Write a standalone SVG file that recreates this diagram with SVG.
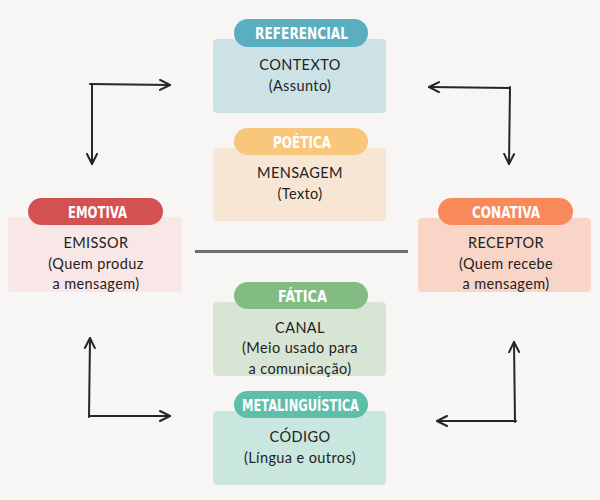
<svg xmlns="http://www.w3.org/2000/svg" width="600" height="500" viewBox="0 0 600 500">
<defs>
<style>
.box{stroke:none}
.pill{stroke:none}
.lbl{font-family:"DejaVu Sans Condensed","DejaVu Sans",sans-serif;font-weight:bold;font-size:15.5px;fill:#ffffff;text-anchor:middle}
.txt{font-family:Lato,"Open Sans",sans-serif;font-size:14.5px;fill:#222222;text-anchor:middle;letter-spacing:0.4px}
.conn{fill:none;stroke:#262626;stroke-width:2;stroke-linecap:round}
</style>
<marker id="ah" viewBox="0 0 12 12" refX="11" refY="6" markerWidth="12" markerHeight="12" markerUnits="userSpaceOnUse" orient="auto">
<path d="M1,1 L11,6 L1,11" fill="none" stroke="#262626" stroke-width="2" stroke-linecap="round" stroke-linejoin="round"/>
</marker>
</defs>
<rect x="0" y="0" width="600" height="500" fill="#f7f6f4"/>

<g id="referencial">
<rect class="box" x="213" y="39" width="173" height="74" rx="4" fill="#cde2e7"/>
<rect class="pill" x="234" y="19" width="134" height="28" rx="14" fill="#5aaec0"/>
<text class="lbl" x="301.5" y="38.5" textLength="93" lengthAdjust="spacingAndGlyphs">REFERENCIAL</text>
<text class="txt" x="300" y="70">CONTEXTO</text>
<text class="txt" x="300" y="91">(Assunto)</text>
</g>

<g id="poetica">
<rect class="box" x="213" y="148" width="173" height="73" rx="4" fill="#f8e6d5"/>
<rect class="pill" x="234" y="128" width="134" height="27" rx="13.5" fill="#f8c77c"/>
<text class="lbl" x="302" y="147.5" textLength="58" lengthAdjust="spacingAndGlyphs">POÉTICA</text>
<text class="txt" x="300" y="178">MENSAGEM</text>
<text class="txt" x="300" y="199">(Texto)</text>
</g>

<g id="emotiva">
<rect class="box" x="8" y="217" width="174" height="75" rx="4" fill="#f9e7e7"/>
<rect class="pill" x="28" y="198" width="135" height="27" rx="13.5" fill="#d45152"/>
<text class="lbl" x="97.5" y="217.5" textLength="59" lengthAdjust="spacingAndGlyphs">EMOTIVA</text>
<text class="txt" x="96" y="248">EMISSOR</text>
<text class="txt" x="96" y="269">(Quem produz</text>
<text class="txt" x="96" y="289">a mensagem)</text>
</g>

<g id="conativa">
<rect class="box" x="418" y="218" width="173" height="74" rx="4" fill="#f9d5c7"/>
<rect class="pill" x="438" y="198" width="135" height="27" rx="13.5" fill="#f8895b"/>
<text class="lbl" x="506" y="217.5" textLength="68" lengthAdjust="spacingAndGlyphs">CONATIVA</text>
<text class="txt" x="506" y="248">RECEPTOR</text>
<text class="txt" x="506" y="269">(Quem recebe</text>
<text class="txt" x="506" y="289">a mensagem)</text>
</g>

<g id="fatica">
<rect class="box" x="213" y="302" width="173" height="74" rx="4" fill="#d8e5d5"/>
<rect class="pill" x="234" y="282" width="134" height="27" rx="13.5" fill="#82bc82"/>
<text class="lbl" x="302.5" y="301.5" textLength="49" lengthAdjust="spacingAndGlyphs">FÁTICA</text>
<text class="txt" x="300" y="333">CANAL</text>
<text class="txt" x="300" y="353">(Meio usado para</text>
<text class="txt" x="300" y="374">a comunicação)</text>
</g>

<g id="metalinguistica">
<rect class="box" x="213" y="411" width="173" height="74" rx="4" fill="#c9e6df"/>
<rect class="pill" x="234" y="391" width="134" height="27" rx="13.5" fill="#5ebfa9"/>
<text class="lbl" x="300.5" y="410.5" textLength="117" lengthAdjust="spacingAndGlyphs">METALINGUÍSTICA</text>
<text class="txt" x="300" y="442">CÓDIGO</text>
<text class="txt" x="300" y="463">(Língua e outros)</text>
</g>

<g id="connectors">
<line x1="195" y1="251.5" x2="408" y2="251.5" stroke="#6f6f6f" stroke-width="3"/>
<path class="conn" d="M90,84 L170,85" marker-end="url(#ah)"/>
<path class="conn" d="M92,84 L92,164" marker-end="url(#ah)"/>
<path class="conn" d="M510,88 L429,87" marker-end="url(#ah)"/>
<path class="conn" d="M510,87 L509,164" marker-end="url(#ah)"/>
<path class="conn" d="M89,417 L90,338" marker-end="url(#ah)"/>
<path class="conn" d="M89,416 L170,416" marker-end="url(#ah)"/>
<path class="conn" d="M515,422 L514,342" marker-end="url(#ah)"/>
<path class="conn" d="M516,421 L437,421" marker-end="url(#ah)"/>
</g>
</svg>
